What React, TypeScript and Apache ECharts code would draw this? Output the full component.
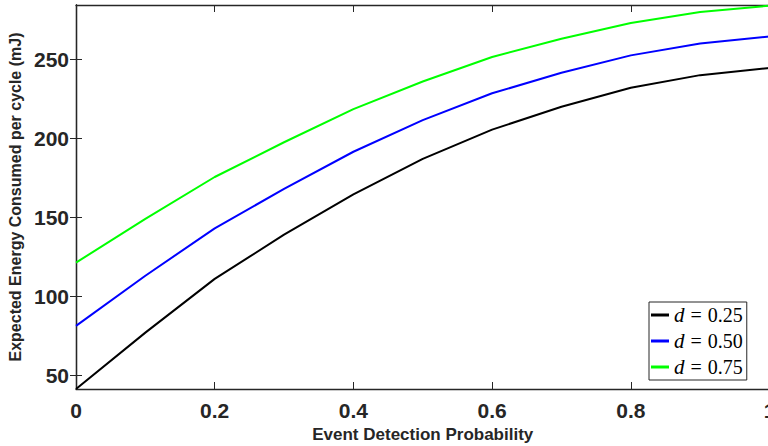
import React, { useEffect, useRef } from "react";
import * as echarts from "echarts";

const xValues = [0, 0.1, 0.2, 0.3, 0.4, 0.5, 0.6, 0.7, 0.8, 0.9, 1];
const energyD025 = [41.3, 77, 111, 139, 164.5, 187, 205.5, 220, 232, 240, 244.5];
const energyD050 = [81.3, 113, 143, 168, 191.5, 211.5, 228.5, 241.5, 252.5, 260, 264.5];
const energyD075 = [121.3, 149, 175.5, 197.5, 218.5, 236, 251.5, 263, 273, 280, 284];
const seriesNames = ["d = 0.25", "d = 0.50", "d = 0.75"];
const seriesColors = ["#000000", "#0000ff", "#00ff00"];
const yTickValues = [50, 100, 150, 200, 250];
const xTickValues = [0, 0.2, 0.4, 0.6, 0.8, 1];
const xTitle = "Event Detection Probability";
const yTitle = "Expected Energy Consumed per cycle (mJ)";

const axisColor = "#262626";
const sansFont = "'Liberation Sans', Arial, Helvetica, sans-serif";
const serifFont = "'Liberation Serif', 'DejaVu Serif', serif";

export default function App() {
  const ref = useRef<HTMLDivElement>(null);

  useEffect(() => {
    if (!ref.current) return;
    const chart = echarts.init(ref.current, null, { renderer: "svg" });
    const allSeries = [energyD025, energyD050, energyD075];
    const yMin = 41.3;
    const yMax = 284.4;

    const lineStyleAxis = { show: true, lineStyle: { color: axisColor, width: 1.3 } };

    const option: any = {
      animation: false,
      backgroundColor: "#ffffff",
      grid: { left: 76, top: 5, right: 2.5, bottom: 57, containLabel: false, outerBoundsMode: "none" },
      xAxis: [
        {
          type: "value",
          min: 0,
          max: 1,
          position: "bottom",
          axisLine: lineStyleAxis,
          axisTick: { show: true, inside: true, length: 7, customValues: xTickValues, lineStyle: { color: axisColor, width: 1 } },
          axisLabel: {
            show: true,
            customValues: xTickValues,
            formatter: (v: number) => String(v),
            fontFamily: sansFont,
            fontWeight: "bold",
            fontSize: 21,
            color: axisColor,
            margin: 11,
            hideOverlap: false,
          },
          splitLine: { show: false },
          name: xTitle,
          nameLocation: "middle",
          nameGap: 37,
          nameTextStyle: { fontFamily: sansFont, fontWeight: "bold", fontSize: 17, color: axisColor },
        },
        {
          type: "value",
          min: 0,
          max: 1,
          position: "top",
          axisLine: lineStyleAxis,
          axisTick: { show: true, inside: true, length: 7, customValues: xTickValues, lineStyle: { color: axisColor, width: 1 } },
          axisLabel: { show: false },
          splitLine: { show: false },
        },
      ],
      yAxis: [
        {
          type: "value",
          min: yMin,
          max: yMax,
          position: "left",
          axisLine: lineStyleAxis,
          axisTick: { show: true, inside: true, length: 6, customValues: yTickValues, lineStyle: { color: axisColor, width: 1 } },
          axisLabel: {
            show: true,
            customValues: yTickValues,
            fontFamily: sansFont,
            fontWeight: "bold",
            fontSize: 21,
            color: axisColor,
            margin: 7,
          },
          splitLine: { show: false },
          name: yTitle,
          nameLocation: "middle",
          nameGap: 48,
          nameTextStyle: { fontFamily: sansFont, fontWeight: "bold", fontSize: 16, color: axisColor },
        },
        {
          type: "value",
          min: yMin,
          max: yMax,
          position: "right",
          axisLine: lineStyleAxis,
          axisTick: { show: true, inside: true, length: 6, customValues: yTickValues, lineStyle: { color: axisColor, width: 1 } },
          axisLabel: { show: false },
          splitLine: { show: false },
        },
      ],
      legend: {
        show: true,
        orient: "vertical",
        left: 649,
        top: 302,
        padding: [2, 4, 2, 2],
        itemGap: 4,
        itemWidth: 18,
        itemHeight: 3,
        icon: "rect",
        backgroundColor: "#ffffff",
        borderColor: axisColor,
        borderWidth: 1,
        borderRadius: 0,
        data: seriesNames,
        formatter: (name: string) => {
          const val = name.split("=")[1].trim();
          return `{i|d}{e|=}{n|${val}}`;
        },
        textStyle: {
          fontFamily: serifFont,
          fontSize: 20,
          lineHeight: 22,
          color: "#000000",
          rich: {
            i: { fontFamily: serifFont, fontStyle: "italic", fontSize: 21, color: "#000" },
            e: { fontFamily: serifFont, fontSize: 20, padding: [0, 6, 0, 6], color: "#000" },
            n: { fontFamily: serifFont, fontSize: 20, color: "#000" },
          },
        },
      },
      series: allSeries.map((vals, i) => ({
        name: seriesNames[i],
        type: "line",
        xAxisIndex: 0,
        yAxisIndex: 0,
        data: xValues.map((x, j) => [x, vals[j]]),
        showSymbol: false,
        symbol: "none",
        lineStyle: { color: seriesColors[i], width: 2 },
        itemStyle: { color: seriesColors[i] },
        clip: true,
      })),
    };

    chart.setOption(option);
    return () => chart.dispose();
  }, []);

  return (
    <div
      ref={ref}
      style={{ position: "fixed", left: 0, top: 0, width: 772, height: 446, background: "#fff" }}
    />
  );
}
